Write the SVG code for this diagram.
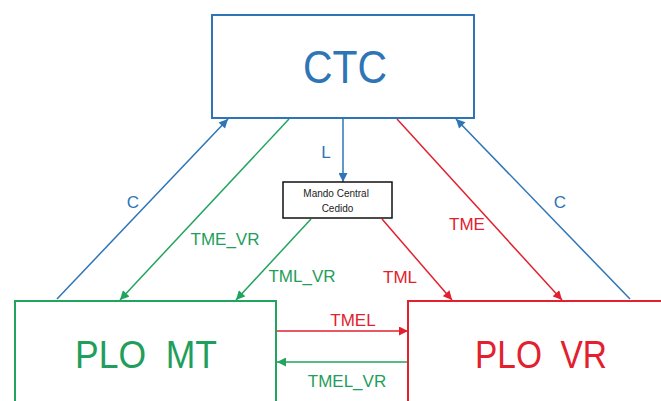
<svg xmlns="http://www.w3.org/2000/svg" width="661" height="401" viewBox="0 0 661 401">
<style>
  .box { fill: #ffffff; stroke-width: 2; }
  .big { font-family: "Liberation Sans", Arial, sans-serif; text-anchor: middle; }
  .lbl { font-family: "Liberation Sans", Arial, sans-serif; font-size: 17px; text-anchor: middle; }
  .blue { stroke: #2E75B6; }
  .green { stroke: #22A35E; }
  .red { stroke: #E2202E; }
  .ln { fill: none; stroke-width: 1.5; }
  .tb { fill: #2E75B6; }
  .tg { fill: #1F9E5C; }
  .tr { fill: #E2202E; }
</style>
<defs>
  <marker id="ab" viewBox="0 0 10 10" refX="10" refY="5" markerWidth="10" markerHeight="9" markerUnits="userSpaceOnUse" orient="auto">
    <path d="M0,0 L10,5 L0,10 z" fill="#2E75B6"/>
  </marker>
  <marker id="ag" viewBox="0 0 10 10" refX="10" refY="5" markerWidth="10" markerHeight="9" markerUnits="userSpaceOnUse" orient="auto">
    <path d="M0,0 L10,5 L0,10 z" fill="#22A35E"/>
  </marker>
  <marker id="ar" viewBox="0 0 10 10" refX="10" refY="5" markerWidth="10" markerHeight="9" markerUnits="userSpaceOnUse" orient="auto">
    <path d="M0,0 L10,5 L0,10 z" fill="#E2202E"/>
  </marker>
</defs>
<rect width="661" height="401" fill="#ffffff"/>

<g id="connectors">
  <line class="ln blue" x1="57" y1="299" x2="228" y2="119" marker-end="url(#ab)"/>
  <line class="ln blue" x1="630" y1="299" x2="456" y2="119" marker-end="url(#ab)"/>
  <line class="ln green" x1="289" y1="119" x2="120" y2="300" marker-end="url(#ag)"/>
  <line class="ln green" x1="311" y1="219" x2="236" y2="300" marker-end="url(#ag)"/>
  <line class="ln red" x1="397" y1="119" x2="562" y2="300" marker-end="url(#ar)"/>
  <line class="ln red" x1="382" y1="219" x2="452" y2="300" marker-end="url(#ar)"/>
  <line class="ln blue" x1="343" y1="119" x2="343" y2="182" marker-end="url(#ab)"/>
  <line class="ln red" x1="277" y1="331" x2="408" y2="331" marker-end="url(#ar)"/>
  <line class="ln green" x1="408" y1="362" x2="277" y2="362" marker-end="url(#ag)"/>
  <text class="lbl tb" x="133" y="208">C</text>
  <text class="lbl tb" x="560" y="208">C</text>
  <text class="lbl tb" x="326" y="158">L</text>
  <text class="lbl tg" x="225" y="245">TME_VR</text>
  <text class="lbl tg" x="302" y="282">TML_VR</text>
  <text class="lbl tr" x="467" y="230">TME</text>
  <text class="lbl tr" x="400" y="283">TML</text>
  <text class="lbl tr" x="353" y="326">TMEL</text>
  <text class="lbl tg" x="347" y="387">TMEL_VR</text>
</g>

<g id="ctc">
  <rect class="box blue" x="212" y="15" width="262" height="103"/>
  <text class="big tb" x="345" y="83" font-size="46" textLength="84" lengthAdjust="spacingAndGlyphs">CTC</text>
</g>

<g id="mando">
  <rect x="283" y="182" width="109" height="36" fill="#ffffff" stroke="#111111" stroke-width="1.5"/>
  <text font-family="Liberation Sans, Arial, sans-serif" font-size="10" text-anchor="middle" fill="#222222">
    <tspan x="337.5" y="197">Mando Central</tspan>
    <tspan x="337.5" y="212">Cedido</tspan>
  </text>
</g>

<g id="plo-mt">
  <rect class="box green" x="15" y="301" width="261" height="115"/>
  <text class="big tg" x="146" y="368" font-size="39" textLength="142" lengthAdjust="spacingAndGlyphs" xml:space="preserve">PLO  MT</text>
</g>

<g id="plo-vr">
  <rect class="box red" x="408" y="301" width="270" height="115"/>
  <text class="big tr" x="541" y="368" font-size="39" textLength="132" lengthAdjust="spacingAndGlyphs" xml:space="preserve">PLO  VR</text>
</g>
</svg>
